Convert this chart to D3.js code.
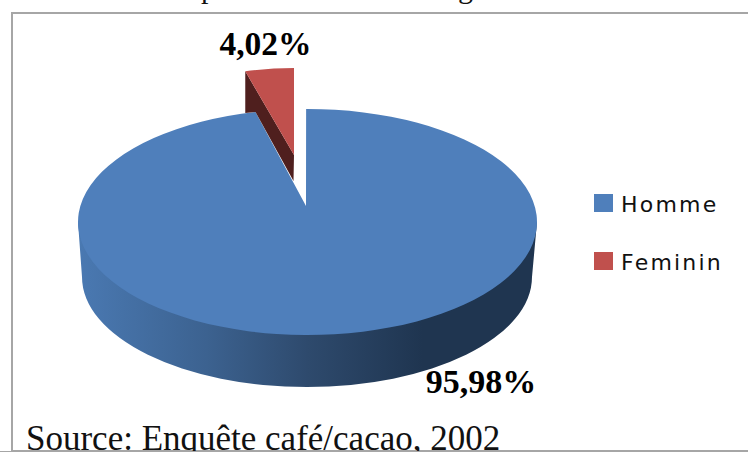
<!DOCTYPE html>
<html><head><meta charset="utf-8">
<script src="https://cdn.jsdelivr.net/npm/d3@7"></script>
<style>html,body{margin:0;padding:0;background:#fff}svg{display:block}</style>
</head><body><svg id="c" width="748" height="452"></svg>
<script>
const categories = ["Homme", "Feminin"];
const values = [95.98, 4.02];
const valueLabels = ["95,98%", "4,02%"];
const colors = ["#4f7fbb", "#c0504d"];
const sourceText = "Source: Enquête café/cacao, 2002";
const titleFragments = ["p", "g"];

const svg = d3.select("#c");
const defs = svg.append("defs");
const grad = defs.append("linearGradient").attr("id","wall").attr("gradientUnits","userSpaceOnUse")
  .attr("x1",78).attr("x2",537).attr("y1",0).attr("y2",0);
[[0,"#4a79b2"],[0.28,"#3c6290"],[0.5,"#2e4a6d"],[0.75,"#1f3550"],[1,"#1f3550"]]
  .forEach(s=>grad.append("stop").attr("offset",s[0]).attr("stop-color",s[1]));

const pie = d3.pie().sort(null).value(d=>d);
const arcs = pie(values);
const onEllipse = (e,a)=>[e.cx+e.rx*Math.sin(a), e.cy-e.ry*Math.cos(a)];
// the 3D view foreshortens the far edge of the pie a little
const farEdge = a => 2*Math.PI-(2*Math.PI-a)*0.905;

// title fragments above the frame
svg.selectAll("text.t").data(titleFragments).join("text").attr("class","t")
  .attr("x",(d,i)=>i===0?201:458).attr("y",-2.5)
  .attr("font-family","Liberation Serif").attr("font-size",30).attr("fill","#111").text(d=>d);

// chart frame
svg.append("rect").attr("x",12).attr("y",13).attr("width",760).attr("height",438)
  .attr("fill","#fff").attr("stroke","#a6a6a6").attr("stroke-width",2);

// blue wall
svg.append("path").attr("fill","url(#wall)")
  .attr("d","M537,222 L532,277 A225,110 0 0 1 82,277 L78,222 Z");

// blue top face
const T={cx:307.5,cy:222,rx:229.5,ry:113};
const a0=onEllipse(T,arcs[0].startAngle-0.006);
const a1=onEllipse(T,farEdge(arcs[0].endAngle));
svg.append("path").attr("fill",colors[0])
  .attr("d",`M306,206 L${a0[0]},${a0[1]} A${T.rx},${T.ry} 0 1 1 ${a1[0]},${a1[1]} Z`);

// exploded red slice
const R={cx:294,cy:172,rx:195,ry:104};
const r0=onEllipse(R,arcs[1].startAngle);
const r1=onEllipse(R,arcs[1].endAngle);
const dark=svg.append("path").attr("fill","#4f1f1e")
  .attr("d",`M${r0[0]},${r0[1]} L${r0[0]},${a1[1]+1} L${a1[0]},${a1[1]} L293.5,181 L294,155 Z`);
svg.append("path").attr("fill",colors[1])
  .attr("d",`M294,155 L${r0[0]},${r0[1]} A${R.rx},${R.ry} 0 0 1 ${r1[0]},${r1[1]} Z`);

// value labels
svg.selectAll("text.v").data(valueLabels).join("text").attr("class","v")
  .attr("x",(d,i)=>i===0?481:265.5).attr("y",(d,i)=>i===0?393:55)
  .attr("text-anchor","middle").attr("font-family","Liberation Serif")
  .attr("font-weight","bold").attr("font-size",(d,i)=>i===0?34:33.5).attr("fill","#000").text(d=>d);

// legend
const y=d3.scalePoint().domain(categories).range([203,261]);
const leg=svg.selectAll("g.l").data(categories).join("g").attr("class","l")
  .attr("transform",d=>`translate(594,${y(d)})`);
leg.append("rect").attr("width",19).attr("height",18).attr("y",-9).attr("fill",(d,i)=>colors[i]);
leg.append("text").attr("x",27).attr("y",8.5).attr("font-family","DejaVu Sans")
  .attr("font-size",22).attr("letter-spacing",2.2).attr("fill","#111").text(d=>d);

// source, clipped by the frame
svg.append("text").attr("x",26).attr("y",449.5).attr("font-family","Liberation Serif")
  .attr("font-size",35).attr("fill","#111").text(sourceText);
svg.append("rect").attr("x",0).attr("y",451).attr("width",748).attr("height",1).attr("fill","#a6a6a6");
</script></body></html>
